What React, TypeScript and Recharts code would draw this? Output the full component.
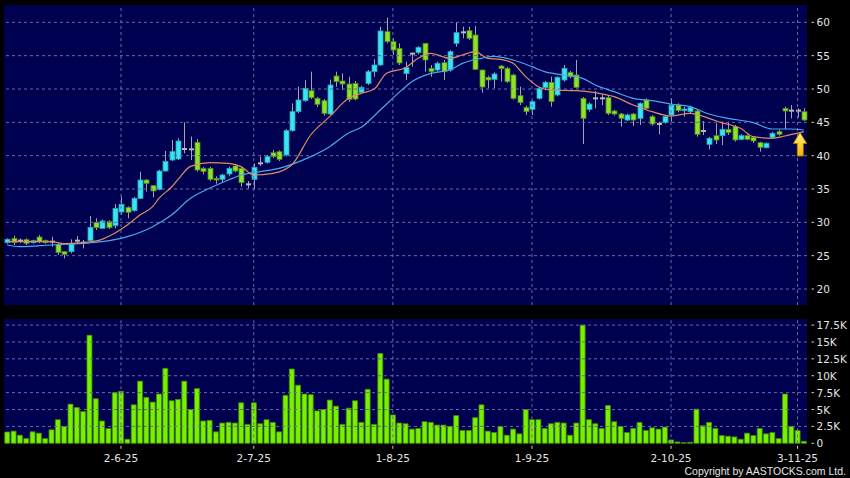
import React from "react";
import { ComposedChart, Bar, Line, XAxis, YAxis, ReferenceLine } from "recharts";

// daily OHLC
const opens = [
  26.95, 27.6, 27.25, 27.4, 26.95, 27.8, 27.3, 27.1, 26.7, 25.6,
  25.6, 27.25, 26.95, 27.25, 30.0, 29.1, 30.1, 29.5, 31.55, 32.25,
  31.75, 33.6, 36.35, 35.5, 34.95, 37.7, 39.35, 39.5, 41.0, 40.95,
  42.0, 38.1, 38.1, 36.6, 36.45, 37.25, 38.45, 38.1, 35.7, 36.45,
  38.85, 39.0, 40.45, 40.6, 40.1, 43.75, 46.6, 48.25, 49.75, 48.6,
  48.25, 46.25, 51.95, 51.2, 50.75, 50.85, 49.5, 50.85, 52.6, 53.6,
  58.6, 57.1, 56.1, 52.3, 55.3, 55.45, 56.85, 53.1, 52.85, 53.95,
  52.85, 56.85, 58.5, 58.75, 58.1, 52.85, 51.75, 51.45, 53.45, 53.1,
  52.1, 49.0, 47.25, 46.95, 48.6, 50.2, 51.0, 49.1, 51.35, 52.5,
  52.1, 48.6, 46.95, 48.6, 48.6, 48.7, 46.7, 46.25, 45.35, 46.25,
  45.6, 48.35, 45.85, 44.75, 45.0, 46.1, 47.6, 46.75, 46.6, 46.7,
  43.7, 41.7, 43.0, 43.0, 43.95, 44.35, 42.45, 43.0, 42.75, 41.95,
  41.2, 42.75, 43.6, 47.1, 46.75, 46.75, 46.6,
];
const highs = [
  27.6, 28.0, 27.6, 27.6, 27.4, 28.1, 27.4, 27.85, 26.9, 25.7,
  27.45, 27.95, 27.35, 30.95, 30.6, 30.4, 30.3, 32.75, 33.85, 32.4,
  33.8, 37.6, 36.5, 35.6, 37.9, 40.7, 42.35, 42.6, 45.0, 42.85,
  42.5, 38.3, 38.3, 36.9, 37.3, 38.35, 38.7, 38.3, 36.2, 38.85,
  39.85, 40.1, 40.85, 40.8, 44.0, 47.85, 50.35, 51.35, 52.6, 48.8,
  48.5, 51.4, 52.6, 52.35, 51.85, 51.2, 50.5, 52.85, 54.45, 59.35,
  60.7, 57.6, 56.85, 54.1, 55.45, 56.4, 56.9, 53.6, 54.1, 54.35,
  55.85, 60.0, 59.35, 59.35, 59.45, 52.9, 52.0, 52.5, 53.6, 53.3,
  52.3, 50.35, 47.5, 48.3, 50.3, 51.2, 51.85, 51.9, 53.6, 52.7,
  54.35, 48.8, 48.0, 49.7, 49.1, 49.0, 46.9, 46.4, 46.3, 46.4,
  48.0, 48.6, 46.1, 45.1, 46.1, 48.6, 47.85, 47.35, 47.5, 46.85,
  45.2, 42.8, 44.85, 45.1, 45.1, 44.6, 43.2, 43.2, 42.9, 42.1,
  42.0, 43.6, 43.9, 47.35, 47.6, 47.1, 47.1,
];
const lows = [
  26.8, 26.6, 26.9, 26.6, 26.8, 26.9, 26.8, 26.35, 25.1, 24.6,
  25.35, 26.75, 26.1, 27.1, 28.85, 29.0, 29.0, 29.1, 31.1, 30.6,
  31.6, 33.5, 34.6, 33.75, 34.8, 37.6, 39.2, 39.35, 40.35, 39.35,
  37.6, 37.2, 36.2, 35.8, 36.0, 36.9, 37.5, 35.35, 35.1, 34.95,
  38.45, 38.8, 39.6, 39.2, 39.9, 43.6, 46.4, 48.1, 48.5, 47.3,
  46.0, 46.1, 50.35, 49.85, 48.1, 48.3, 49.3, 50.6, 51.85, 53.5,
  56.85, 55.1, 53.6, 51.35, 53.35, 55.2, 52.6, 51.85, 52.6, 51.35,
  52.6, 56.35, 57.6, 57.35, 52.85, 49.45, 50.1, 50.1, 51.1, 50.9,
  48.4, 47.6, 46.1, 46.1, 48.4, 49.9, 47.35, 48.9, 51.1, 51.6,
  50.1, 41.75, 46.6, 47.1, 47.6, 46.1, 46.0, 44.35, 45.2, 44.45,
  44.6, 46.9, 44.5, 43.2, 44.8, 45.1, 46.5, 45.85, 46.4, 42.85,
  43.1, 40.95, 41.75, 41.6, 43.1, 42.1, 42.3, 42.3, 41.9, 40.6,
  41.1, 42.5, 43.0, 44.0, 45.6, 45.75, 45.2,
];
const closes = [
  27.45, 27.0, 27.25, 26.85, 27.25, 27.1, 26.95, 27.1, 25.45, 25.2,
  26.85, 27.25, 26.95, 29.25, 29.2, 30.2, 29.2, 32.1, 32.7, 31.5,
  33.6, 36.35, 35.85, 34.7, 37.7, 39.15, 40.6, 42.2, 41.0, 40.95,
  37.85, 37.6, 36.45, 36.35, 37.1, 38.1, 37.7, 35.95, 35.7, 38.25,
  38.85, 39.85, 39.85, 39.45, 43.75, 46.6, 48.35, 50.1, 48.7, 47.7,
  46.35, 50.6, 51.1, 50.75, 48.45, 48.5, 50.25, 52.6, 53.6, 58.7,
  57.1, 55.85, 53.9, 53.2, 55.3, 56.25, 54.35, 52.6, 53.85, 52.6,
  55.6, 58.45, 58.5, 57.6, 52.95, 50.3, 51.35, 52.25, 53.05, 51.1,
  48.6, 47.95, 46.6, 48.1, 50.1, 51.0, 48.1, 51.75, 53.1, 51.85,
  50.25, 45.6, 47.75, 48.6, 48.6, 46.35, 46.25, 45.6, 46.1, 45.35,
  47.85, 47.1, 44.75, 44.75, 45.85, 47.6, 46.75, 47.0, 47.25, 43.2,
  43.7, 42.6, 42.35, 43.95, 43.45, 42.35, 43.0, 42.45, 42.2, 41.25,
  41.85, 43.35, 43.2, 46.7, 46.75, 46.75, 45.35,
];
// volume in thousands
const volumes = [
  1.67, 1.8, 1.2, 0.7, 1.7, 1.5, 0.7, 2.0, 3.5, 2.5,
  5.8, 5.3, 4.7, 16.0, 6.6, 3.3, 2.2, 7.5, 7.7, 0.6,
  5.7, 9.2, 6.8, 6.1, 7.3, 11.1, 6.3, 6.5, 9.2, 5.0,
  8.1, 3.3, 3.4, 1.7, 3.0, 3.1, 3.0, 6.0, 2.8, 6.0,
  2.9, 3.5, 3.1, 1.7, 7.1, 11.0, 8.6, 7.3, 7.2, 4.8,
  5.0, 6.4, 5.5, 2.8, 5.2, 6.3, 3.1, 8.0, 2.8, 13.3,
  9.5, 4.2, 3.0, 2.9, 2.1, 2.2, 3.2, 3.1, 2.7, 2.7,
  2.5, 4.1, 1.9, 1.9, 3.8, 5.7, 1.8, 1.6, 2.5, 1.2,
  2.1, 1.4, 5.0, 3.5, 3.5, 2.2, 2.9, 3.1, 3.0, 1.2,
  3.0, 17.5, 3.5, 2.9, 2.2, 5.6, 3.2, 2.5, 1.6, 2.2,
  3.1, 1.9, 2.3, 2.1, 2.4, 0.5, 0.2, 0.1, 0.15, 5.05,
  2.6, 3.1, 2.2, 1.15, 1.05, 0.95, 0.6, 1.5, 1.15, 2.2,
  1.4, 1.6, 0.7, 7.3, 2.5, 1.9, 0.3,
];
// moving averages read at [bar, value]
const maFastPts: [number, number][] = [
  [0, 27.1], [4, 27.1], [7, 27.1], [9, 26.8], [12, 26.95], [15, 27.45], [17, 28.35],
  [19, 29.6], [21, 31.1], [23, 32.35], [24, 33.6], [26, 35.3], [27, 36.4], [29, 38.4],
  [32, 38.95], [35, 38.85], [37, 38.35], [39, 37.1], [42, 37.35], [45, 38.6], [48, 43.1],
  [51, 45.85], [54, 48.6], [56, 49.35], [58, 49.95], [60, 52.35], [63, 53.2], [65, 54.6],
  [67, 55.35], [70, 54.6], [72, 55.1], [74, 55.6], [76, 54.6], [78, 54.45], [80, 53.85],
  [82, 51.85], [84, 50.35], [86, 49.85], [90, 49.75], [93, 49.45], [96, 48.85], [99, 47.6],
  [102, 46.6], [105, 45.95], [108, 46.35], [111, 45.6], [113, 44.95], [116, 44.1],
  [118, 42.85], [121, 42.6], [123, 42.95], [126, 43.6],
];
const maSlowPts: [number, number][] = [
  [0, 26.6], [2, 26.35], [7, 26.6], [12, 26.85], [15, 27.1], [19, 27.85], [23, 29.35],
  [26, 31.1], [29, 33.6], [32, 35.1], [35, 36.35], [37, 37.1], [40, 37.6], [43, 38.1],
  [48, 39.85], [51, 41.35], [54, 43.4], [56, 44.25], [59, 46.85], [62, 49.5], [64, 51.1],
  [67, 52.35], [70, 52.85], [72, 53.85], [75, 54.6], [77, 54.9], [80, 54.35], [83, 53.35],
  [85, 52.6], [88, 52.1], [91, 51.6], [93, 50.6], [96, 49.6], [99, 48.6], [102, 48.25],
  [105, 47.75], [108, 47.35], [111, 46.25], [114, 45.6], [118, 44.95], [121, 44.0],
  [124, 44.0], [126, 43.85],
];

const dateTicks = [18, 39, 61, 83, 105, 125];
const dateLabels = ["2-6-25", "2-7-25", "1-8-25", "1-9-25", "2-10-25", "3-11-25"];
const priceTicks = [20, 25, 30, 35, 40, 45, 50, 55, 60];
const volTicks = [0, 2.5, 5, 7.5, 10, 12.5, 15, 17.5];

const NAVY = "#000050";
const GRID = "#6a6aa0";
const TXT = "#e4e4e4";
const FONT = "DejaVu Sans";

const fastMap = new Map(maFastPts);
const slowMap = new Map(maSlowPts);
const rows = opens.map((o, i) => ({
  i,
  open: o,
  high: highs[i],
  low: lows[i],
  close: closes[i],
  vol: volumes[i],
  fast: fastMap.get(i) ?? null,
  slow: slowMap.get(i) ?? null,
}));

function Candle(props: any) {
  const { x, y, width, height, payload } = props;
  const { open, close, high, low } = payload;
  const k = height / (high - low || 1);
  const yOf = (v: number) => y + (high - v) * k;
  const cx = Math.round(x + width / 2) + 0.5;
  const top = yOf(Math.max(open, close));
  const bot = yOf(Math.min(open, close));
  const bx = cx - 2.5;
  if (open === close) {
    return (
      <g>
        <line x1={cx} x2={cx} y1={y} y2={y + height} stroke="#a4a4b0" />
        <rect x={bx} y={top - 1} width={5} height={2} fill="#b8b8b8" />
      </g>
    );
  }
  const up = close > open;
  return (
    <g>
      <line x1={cx} x2={cx} y1={y} y2={y + height} stroke="#a4a4b0" />
      <rect
        x={bx}
        y={top}
        width={5}
        height={Math.max(bot - top, 1)}
        fill={up ? "#3ae4f2" : "#8ee22c"}
        stroke={up ? "#1ea8b8" : "#4d8a14"}
        strokeWidth={0.8}
      />
    </g>
  );
}

function PriceTick(p: any) {
  return (
    <g>
      <line x1={p.x + 4.5} x2={p.x + 7} y1={p.y} y2={p.y} stroke="#cfcfcf" />
      <text x={p.x + 9.5} y={p.y} dy={4} fill={TXT} fontSize={10.5} fontFamily={FONT}>
        {p.payload.value}
      </text>
    </g>
  );
}

function VolTick(p: any) {
  const v = p.payload.value;
  return (
    <g>
      <line x1={p.x + 4.5} x2={p.x + 7} y1={p.y} y2={p.y} stroke="#cfcfcf" />
      <text x={p.x + 9.5} y={p.y} dy={4} fill={TXT} fontSize={10.5} fontFamily={FONT}>
        {v === 0 ? "0" : `${v}K`}
      </text>
    </g>
  );
}

function DateTick(p: any) {
  const idx = dateTicks.indexOf(p.payload.value);
  return (
    <g>
      <line x1={p.x} x2={p.x} y1={p.y + 2.5} y2={p.y + 5.5} stroke="#cfcfcf" />
      <text x={p.x} y={p.y + 19} textAnchor="middle" fill={TXT} fontSize={10.5} fontFamily={FONT}>
        {dateLabels[idx]}
      </text>
    </g>
  );
}

export default function App() {
  return (
    <div style={{ position: "absolute", left: 0, top: 0, width: 850, height: 478, background: "#000", overflow: "hidden" }}>
      <div style={{ position: "absolute", left: 4, top: 5, width: 803, height: 300, background: NAVY }} />
      <div style={{ position: "absolute", left: 4, top: 319, width: 803, height: 124, background: NAVY }} />

      <div style={{ position: "absolute", left: 0, top: 0 }}>
        <ComposedChart width={850} height={310} data={rows} margin={{ top: 5, right: 0, bottom: 5, left: 4 }} barCategoryGap="14%">
          <XAxis dataKey="i" type="category" hide height={0} />
          <YAxis
            orientation="right"
            width={43}
            domain={[17.6, 62.6]}
            ticks={priceTicks}
            axisLine={false}
            tickLine={false}
            tickSize={0}
            tickMargin={0}
            tick={<PriceTick />}
            interval={0}
          />
          {priceTicks.map((t) => (
            <ReferenceLine key={`py${t}`} y={t} stroke={GRID} strokeDasharray="3 3" />
          ))}
          {dateTicks.map((t) => (
            <ReferenceLine key={`px${t}`} x={t} stroke={GRID} strokeDasharray="3 3" />
          ))}
          <Bar dataKey={(d: any) => [d.low, d.high]} shape={<Candle />} isAnimationActive={false} />
          <Line dataKey="slow" type="monotone" stroke="#4aa6ea" strokeWidth={1.2} dot={false} connectNulls isAnimationActive={false} />
          <Line dataKey="fast" type="monotone" stroke="#e08a64" strokeWidth={1.2} dot={false} connectNulls isAnimationActive={false} />
        </ComposedChart>
      </div>

      <div style={{ position: "absolute", left: 0, top: 312 }}>
        <ComposedChart width={850} height={166} data={rows} margin={{ top: 7, right: 0, bottom: 0, left: 4 }} barCategoryGap="12%">
          <XAxis
            dataKey="i"
            type="category"
            height={34.7}
            ticks={dateTicks}
            interval={0}
            axisLine={false}
            tickLine={false}
            tickSize={0}
            tickMargin={0}
            tick={<DateTick />}
          />
          <YAxis
            orientation="right"
            width={43}
            domain={[0, 18.4]}
            ticks={volTicks}
            axisLine={false}
            tickLine={false}
            tickSize={0}
            tickMargin={0}
            tick={<VolTick />}
            interval={0}
          />
          {volTicks.slice(1).map((t) => (
            <ReferenceLine key={`vy${t}`} y={t} stroke={GRID} strokeDasharray="3 3" />
          ))}
          {dateTicks.map((t) => (
            <ReferenceLine key={`vx${t}`} x={t} stroke={GRID} strokeDasharray="3 3" />
          ))}
          <Bar dataKey="vol" fill="#78f000" stroke="#3f8a00" strokeWidth={0.8} isAnimationActive={false} />
        </ComposedChart>
      </div>

      <svg width={850} height={478} style={{ position: "absolute", left: 0, top: 0, pointerEvents: "none" }}>
        <defs>
          <linearGradient id="arrowFill" x1="0" y1="0" x2="0" y2="1">
            <stop offset="0%" stopColor="#fff27a" />
            <stop offset="100%" stopColor="#f2b400" />
          </linearGradient>
        </defs>
        <polygon
          points="800,132.5 806.7,143.5 803.3,143.5 803.3,156 797.3,156 797.3,143.5 793.3,143.5"
          fill="url(#arrowFill)"
          stroke="#b87a00"
          strokeWidth={0.8}
        />
      </svg>

      <div
        style={{
          position: "absolute",
          left: 0,
          top: 465,
          width: 846,
          textAlign: "right",
          color: TXT,
          fontFamily: "Liberation Sans",
          fontSize: 10.5,
          lineHeight: "13px",
        }}
      >
        Copyright by AASTOCKS.com Ltd.
      </div>
    </div>
  );
}
